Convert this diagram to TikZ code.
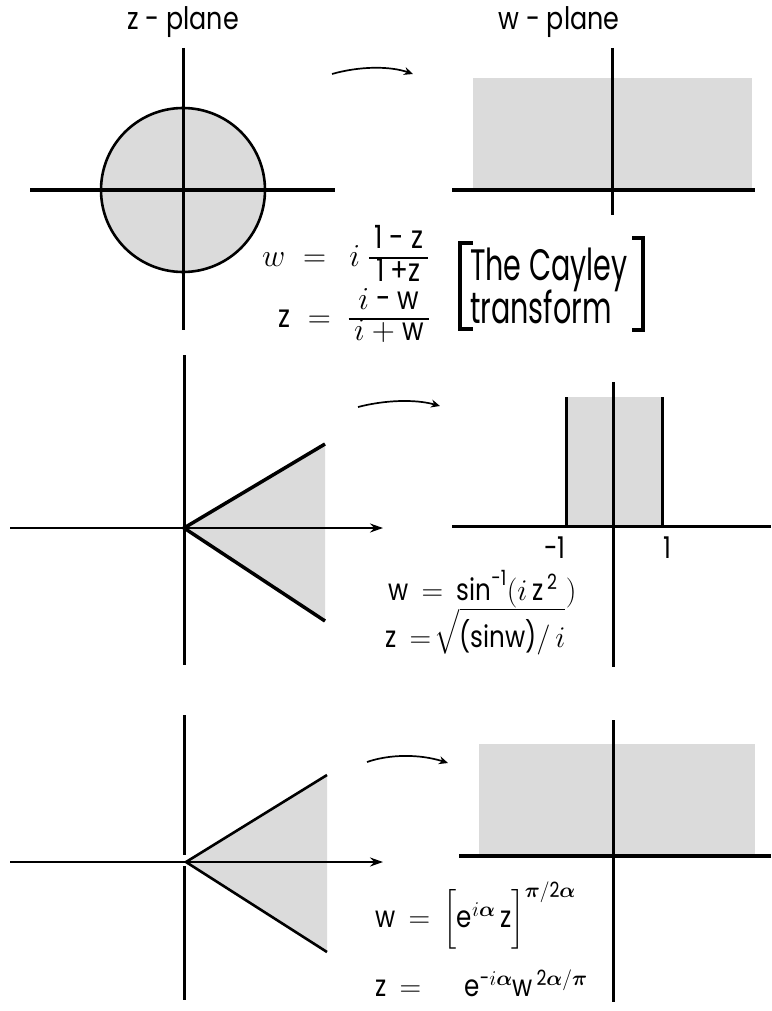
\RequirePackage{fix-cm}
\documentclass[tikz,border=0pt]{standalone}
\usepackage{amsmath}
\usepackage{bm}
\usepackage{fontspec}
\setmainfont{Poppins}[FakeStretch=0.82]
\newfontfamily\cayfont{Poppins}[FakeStretch=0.65]
\usetikzlibrary{arrows.meta}
\definecolor{regiongray}{gray}{0.86}
\newcommand{\tightfrac}[2]{{\renewcommand{\arraystretch}{0.84}\setlength{\arrayrulewidth}{1.3pt}\begin{array}{@{\,}c@{\,}}#1\\\hline #2\end{array}}}
\tikzset{
  axis/.style={line width=3pt},
  harrow/.style={line width=2pt,-{Stealth[length=13pt,width=9pt]}},
  wedgeline/.style={line width=3.5pt,line join=miter},
  wedgethin/.style={line width=2.6pt,line join=miter},
  bendarrow/.style={line width=1.7pt,-{Stealth[length=9pt,width=8pt]}},
  brk/.style={line width=3.5pt},
  title/.style={font=\fontsize{31}{35}\selectfont},
  formula/.style={font=\fontsize{30}{34}\selectfont,anchor=base west,inner sep=0pt},
  fracformula/.style={font=\fontsize{32}{36}\selectfont,anchor=west,inner sep=0pt},
  cay/.style={font=\cayfont\fontsize{44}{48}\selectfont,anchor=base west,inner sep=0pt},
  tick/.style={font=\fontsize{30}{34}\selectfont,inner sep=0pt}
}
\begin{document}
\begin{tikzpicture}[x=1pt,y=-1pt]
\useasboundingbox[fill=white] (0,0) rectangle (771,1011);
% titles
\node[title] (zt) at (183,22) {z - plane};
\node[title] (wt) at (559,22) {w - plane};
% ---------- panel 1
\fill[regiongray] (183,190) circle (82);
\draw[axis] (183,48) -- (183,330);
\draw[axis] (30,190) -- (335,190);
\draw[line width=2.6pt] (183,190) circle (82);
\fill[regiongray] (473,78) rectangle (752,190);
\draw[axis] (612,48) -- (612,215);
\draw[axis] (452,190) -- (755,190);
\coordinate (a1s) at (332,74);
\coordinate (a1e) at (413,74);
\draw[bendarrow] (a1s) .. controls (360,66) and (390,66) .. (a1e);
\node[fracformula] (f1) at (262,258) {$w \;=\;\, i\;\tightfrac{\text{1 - z}}{\text{1\,+z}}$};
\node[fracformula] (f2) at (278,319) {$\text{z} \;=\; \tightfrac{i\text{ - w}}{i+\text{w}}$};
\draw[brk] (473,243) -- (460,243) -- (460,329) -- (473,329);
\draw[brk] (632,238) -- (643,238) -- (643,330) -- (632,330);
\node[cay] (c1) at (470,280) {The Cayley};
\node[cay] (c2) at (470,323) {transform};
% ---------- panel 2
\fill[regiongray] (184,528) -- (325,444) -- (325,621) -- cycle;
\draw[axis] (184,355) -- (184,665);
\draw[harrow] (10,528) -- (383,528);
\draw[wedgeline] (325,444) -- (184,528) -- (325,621);
\coordinate (a2s) at (358,407);
\coordinate (a2e) at (440,406);
\draw[bendarrow] (a2s) .. controls (385,400) and (415,399) .. (a2e);
\fill[regiongray] (566,397) rectangle (662,526);
\draw[axis] (566,397) -- (566,526);
\draw[axis] (662,397) -- (662,526);
\draw[axis] (613,382) -- (613,667);
\draw[axis] (452,526) -- (771,526);
\node[tick] (m1) at (555,548) {-1};
\node[tick] (p1) at (667,548) {1};
\node[formula] (f3) at (388,600) {$\text{w} \,=\, \text{sin}^{\text{-1}}(i\,\text{z}^{\,\text{2}}\;)$};
\node[formula] (f4) at (385,647) {$\text{z} \,=\!\sqrt{\smash[b]{\text{(sinw)}/\,i}}$};
% ---------- panel 3
\fill[regiongray] (186,862) -- (327,775) -- (327,952) -- cycle;
\draw[axis] (184,715) -- (184,855);
\draw[axis] (184,866) -- (184,1000);
\draw[harrow] (10,862) -- (383,862);
\draw[wedgethin] (327,775) -- (186,862) -- (327,952);
\coordinate (a3s) at (367,762);
\coordinate (a3e) at (448,763);
\draw[bendarrow] (a3s) .. controls (390,754) and (420,754) .. (a3e);
\fill[regiongray] (479,744) rectangle (755,856);
\draw[axis] (613,720) -- (613,1002);
\draw[line width=3.5pt] (459,856) -- (771,856);
\node[formula] (f5) at (375,927) {$\text{w} \,=\, \Big[\text{e}^{i\bm\alpha}\,\text{z}\Big]^{\bm\pi/\text{2}\bm\alpha}$};
\node[formula] (f6) at (375,996) {$\text{z} \,=\, \quad \text{e}^{\text{-}i\bm\alpha}\text{w}^{\,\text{2}\bm\alpha/\bm\pi}$};
\end{tikzpicture}
\end{document}
